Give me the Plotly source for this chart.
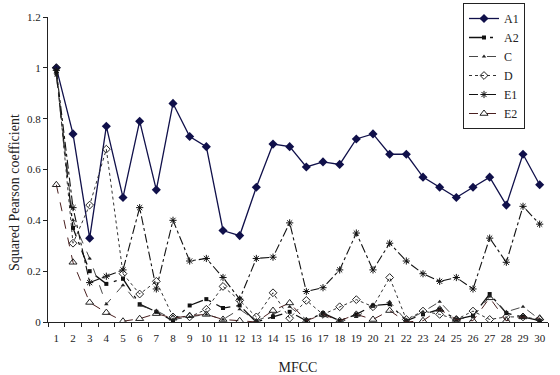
import plotly.graph_objects as go

mfcc = list(range(1, 31))
x_labels = [str(i) for i in mfcc]
y_ticks = [0, 0.2, 0.4, 0.6, 0.8, 1.0, 1.2]
y_tick_labels = ["0", "0.2", "0.4", "0.6", "0.8", "1", "1.2"]

a1 = [1.00, 0.74, 0.33, 0.77, 0.49, 0.79, 0.52, 0.86, 0.73, 0.69,
      0.36, 0.34, 0.53, 0.70, 0.69, 0.61, 0.63, 0.62, 0.72, 0.74,
      0.66, 0.66, 0.57, 0.53, 0.49, 0.53, 0.57, 0.46, 0.66, 0.54]
a2 = [0.98, 0.37, 0.20, 0.15, 0.17, 0.07, 0.04, 0.005, 0.065, 0.09,
      0.055, 0.065, 0.00, 0.02, 0.04, 0.005, 0.035, 0.005, 0.03, 0.065,
      0.07, 0.005, 0.03, 0.05, 0.01, 0.025, 0.11, 0.035, 0.02, 0.005]
c = [0.97, 0.40, 0.25, 0.07, 0.145, 0.065, 0.045, 0.01, 0.02, 0.03,
     0.01, 0.05, 0.005, 0.03, 0.06, 0.01, 0.025, 0.00, 0.02, 0.06,
     0.08, 0.005, 0.04, 0.08, 0.01, 0.02, 0.10, 0.04, 0.06, 0.01]
d = [1.00, 0.31, 0.46, 0.68, 0.19, 0.11, 0.16, 0.02, 0.02, 0.05,
     0.14, 0.085, 0.02, 0.115, 0.015, 0.085, 0.03, 0.06, 0.088, 0.06,
     0.175, 0.01, 0.043, 0.03, 0.01, 0.043, 0.01, 0.02, 0.02, 0.01]
e1 = [0.99, 0.45, 0.155, 0.18, 0.205, 0.45, 0.13, 0.40, 0.24, 0.25,
      0.175, 0.09, 0.25, 0.255, 0.39, 0.12, 0.135, 0.205, 0.35, 0.205,
      0.31, 0.24, 0.19, 0.16, 0.175, 0.13, 0.33, 0.235, 0.455, 0.385]
e2 = [0.54, 0.235, 0.077, 0.037, 0.003, 0.013, 0.033, 0.015, 0.025, 0.03,
      0.01, 0.005, 0.00, 0.045, 0.075, 0.005, 0.03, 0.005, 0.03, 0.01,
      0.045, 0.00, 0.005, 0.05, 0.01, 0.005, 0.095, 0.005, 0.02, 0.015]

series = [
    ("A1", a1, dict(color="#10104a", width=1.3, dash="solid"), dict(symbol="diamond", size=7, color="#10104a")),
    ("A2", a2, dict(color="#111111", width=1.3, dash="longdashdot"), dict(symbol="square", size=4, color="#111111")),
    ("C", c, dict(color="#333333", width=0.9, dash="dash"), dict(symbol="triangle-up", size=4, color="#222222")),
    ("D", d, dict(color="#333333", width=1.0, dash="dot"), dict(symbol="diamond-open", size=6, color="#222222", line=dict(width=1))),
    ("E1", e1, dict(color="#111111", width=1.1, dash="dashdot"), dict(symbol="asterisk-open", size=6, color="#111111", line=dict(width=1, color="#111111"))),
    ("E2", e2, dict(color="#4a2020", width=1.0, dash="dash"), dict(symbol="triangle-up-open", size=7, color="#222222", line=dict(width=1))),
]

fig = go.Figure()
for name, vals, ln, mk in series:
    fig.add_trace(go.Scatter(x=mfcc, y=vals, name=name, mode="lines+markers",
                             line=ln, marker=mk))

font_family = "Liberation Serif, Times New Roman, serif"
fig.update_layout(
    width=560, height=375,
    margin=dict(l=48, r=12, t=17, b=53, autoexpand=False),
    paper_bgcolor="white", plot_bgcolor="white",
    font=dict(family=font_family, size=11, color="#222222"),
    showlegend=True,
    legend=dict(x=463 / 560, y=1 - 3 / 375, xref="container", yref="container",
                xanchor="left", yanchor="top",
                bordercolor="#222222", borderwidth=1, bgcolor="white",
                font=dict(family=font_family, size=12)),
    annotations=[dict(text="Squared Pearson coefficient", textangle=-90,
                      xref="paper", yref="paper", x=-(48 - 15) / 500, y=(322 - 193) / 305,
                      xanchor="center", yanchor="middle", showarrow=False,
                      font=dict(family=font_family, size=14, color="#222222"))],
)
fig.update_xaxes(
    range=[0.5, 30.5], tickvals=mfcc, ticktext=x_labels, ticks="", showgrid=False,
    showline=True, linecolor="#222222", linewidth=1, zeroline=False, automargin=False,
    minor=dict(tickmode="linear", tick0=0.5, dtick=1, ticks="outside", ticklen=4,
               tickcolor="#222222", showgrid=False),
    ticklabelstandoff=6,
    title=dict(text="MFCC", font=dict(family=font_family, size=14), standoff=20),
    tickfont=dict(size=11),
)
fig.update_yaxes(
    range=[0, 1.2], tickvals=y_ticks, ticktext=y_tick_labels, ticks="outside", ticklen=4,
    tickcolor="#222222", showgrid=False, showline=True, linecolor="#222222", linewidth=1,
    zeroline=False, automargin=False,
    tickfont=dict(size=11),
)
fig.write_html("out.html", config={"displayModeBar": False},
               post_script="document.body.style.margin='0';")
